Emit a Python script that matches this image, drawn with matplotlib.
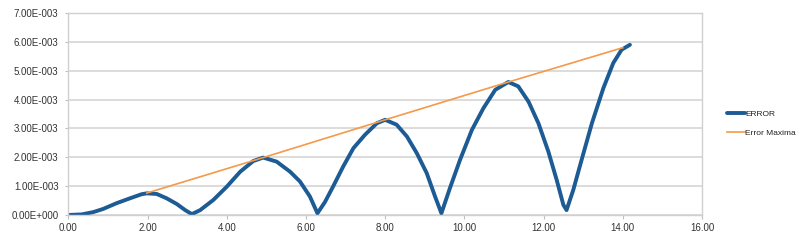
import matplotlib
matplotlib.use("Agg")
import matplotlib.pyplot as plt
from matplotlib.ticker import FuncFormatter, MultipleLocator

# ERROR curve (y in units of 1e-3)
err_x = [0.0, 0.34, 0.63, 0.88, 1.22, 1.56, 1.85, 1.98, 2.23, 2.48, 2.74, 2.95, 3.12,
         3.33, 3.66, 4.0, 4.34, 4.67, 4.92, 5.26, 5.6, 5.85, 6.1, 6.29, 6.48, 6.69,
         6.94, 7.2, 7.49, 7.79, 8.0, 8.29, 8.55, 8.8, 9.05, 9.26, 9.42, 9.64, 9.89,
         10.19, 10.48, 10.78, 11.11, 11.36, 11.62, 11.87, 12.12, 12.33, 12.5, 12.58,
         12.75, 12.96, 13.22, 13.51, 13.76, 13.97, 14.18]
err_y = [0.0, 0.02, 0.10, 0.21, 0.41, 0.58, 0.72, 0.75, 0.73, 0.58, 0.38, 0.17, 0.03,
         0.17, 0.52, 0.98, 1.50, 1.87, 1.99, 1.85, 1.50, 1.16, 0.64, 0.06, 0.45, 1.00,
         1.68, 2.32, 2.78, 3.18, 3.30, 3.13, 2.72, 2.14, 1.45, 0.64, 0.06, 0.95, 1.91,
         2.95, 3.70, 4.34, 4.61, 4.46, 3.93, 3.18, 2.20, 1.22, 0.35, 0.17,
         0.87, 1.91, 3.18, 4.40, 5.27, 5.73, 5.90]

# Error Maxima line
max_x = [1.98, 4.92, 8.0, 11.11, 14.0]
max_y = [0.76, 1.99, 3.30, 4.61, 5.80]

err_y = [v * 1e-3 for v in err_y]
max_y = [v * 1e-3 for v in max_y]

plt.rcParams['font.family'] = ['Liberation Sans', 'DejaVu Sans']

fig = plt.figure(figsize=(8, 2.42), dpi=100)
ax = fig.add_axes([0.0854, 0.1116, 0.7921, 0.8344])

ax.plot(err_x, err_y, color='#1c5b94', lw=2.8, label='ERROR', solid_capstyle='round')
ax.plot(max_x, max_y, color='#f5994a', lw=1.2, label='Error Maxima')

ax.set_xlim(0, 16)
ax.set_ylim(0, 7e-3)
ax.xaxis.set_major_locator(MultipleLocator(2))
ax.yaxis.set_major_locator(MultipleLocator(1e-3))
ax.xaxis.set_major_formatter(FuncFormatter(lambda v, p: f"{v:.2f}"))


def sci(v, p):
    if abs(v) < 1e-12:
        return "0.00E+000"
    s = f"{v:.2E}"
    mant, ex = s.split("E")
    sign = ex[0]
    return f"{mant}E{sign}{int(ex[1:]):03d}"


ax.yaxis.set_major_formatter(FuncFormatter(sci))
ax.grid(axis='y', color='#d9d9d9', lw=1.3)
ax.set_axisbelow(True)
for s in ax.spines.values():
    s.set_color('#d0d0d0')
    s.set_linewidth(1.0)
ax.tick_params(axis='x', length=3, color='#c0c0c0', labelsize=7, labelcolor='#333333', pad=3)
ax.tick_params(axis='y', length=2, color='#c0c0c0', labelsize=7, labelcolor='#333333', pad=5)

fig.legend(loc='center left', bbox_to_anchor=(0.909, 0.49), frameon=False,
           borderpad=0, borderaxespad=0,
           fontsize=6.0, handlelength=2.1, handletextpad=0.05, labelspacing=1.4,
           labelcolor='#222222')

fig.savefig("out.png", dpi=100)
